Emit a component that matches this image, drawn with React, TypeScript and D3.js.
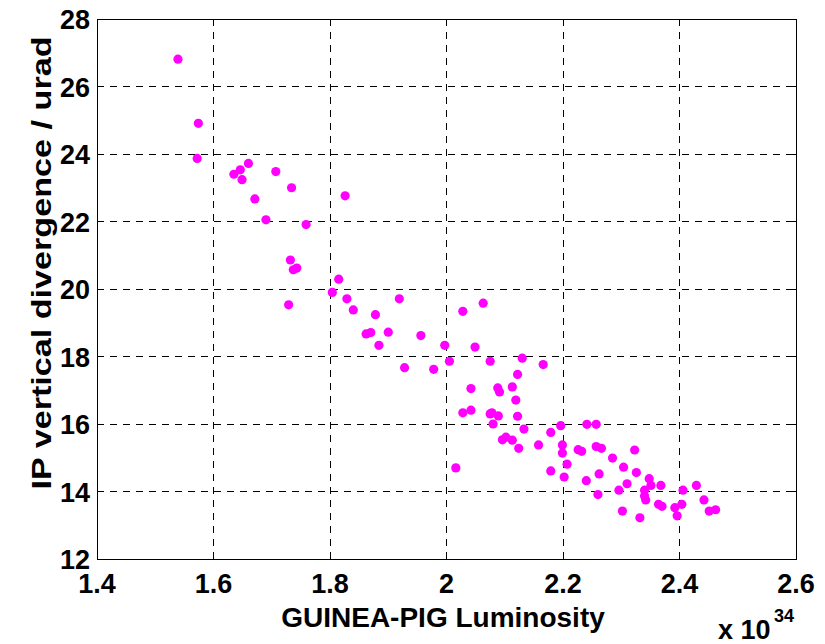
import React from 'react';
import * as d3 from 'd3';

// luminosity (x 1e34)
const lumi = [
	1.539, 1.574, 1.572, 1.66, 1.646, 1.635, 1.649, 1.707, 1.734, 1.671,
	1.826, 1.69, 1.759, 1.732, 1.743, 1.737, 1.729, 1.815, 1.804, 1.829,
	1.84, 1.878, 1.919, 1.862, 1.87, 1.9, 1.884, 1.956, 1.997, 2.049,
	2.028, 2.063, 1.928, 1.978, 2.005, 2.075, 2.13, 2.166, 2.122, 2.042,
	2.088, 2.091, 2.113, 2.119, 2.028, 2.042, 2.075, 2.078, 2.089, 2.08,
	2.122, 2.133, 2.102, 2.096, 2.113, 2.124, 2.158, 2.179, 2.196, 2.199,
	2.199, 2.207, 2.179, 2.202, 2.226, 2.232, 2.241, 2.257, 2.257, 2.266,
	2.24, 2.262, 2.26, 2.285, 2.323, 2.304, 2.326, 2.31, 2.296, 2.302,
	2.332, 2.348, 2.351, 2.34, 2.34, 2.342, 2.368, 2.364, 2.37, 2.392,
	2.396, 2.404, 2.406, 2.429, 2.442, 2.451, 2.462, 2.016,
];

// IP vertical divergence (urad)
const diverg = [
	26.81, 24.91, 23.87, 23.72, 23.53, 23.4, 23.24, 23.48, 23.0, 22.67,
	22.76, 22.05, 21.91, 20.86, 20.62, 20.57, 19.53, 20.29, 19.9, 19.71,
	19.38, 19.24, 19.71, 18.67, 18.71, 18.72, 18.33, 18.62, 18.33, 18.28,
	19.34, 19.58, 17.67, 17.62, 17.86, 17.86, 17.95, 17.76, 17.47, 17.05,
	17.07, 16.95, 17.1, 16.71, 16.33, 16.41, 16.3, 16.33, 16.24, 16.0,
	16.23, 15.85, 15.61, 15.53, 15.52, 15.28, 15.38, 15.75, 15.95, 15.38,
	15.14, 14.81, 14.61, 14.43, 15.24, 15.19, 15.99, 15.99, 15.33, 15.28,
	14.32, 14.52, 13.91, 14.99, 15.23, 14.72, 14.56, 14.23, 14.04, 13.42,
	13.22, 14.38, 14.18, 14.04, 13.87, 13.75, 14.18, 13.62, 13.56, 13.52,
	13.28, 13.62, 14.04, 14.18, 13.75, 13.42, 13.46, 14.7,
];

const xTicks = [1.4, 1.6, 1.8, 2, 2.2, 2.4, 2.6];
const yTicks = [12, 14, 16, 18, 20, 22, 24, 26, 28];

const W = 825;
const H = 644;
const m = { l: 97, r: 796, t: 19, b: 559 };
const font = '"Liberation Sans", Arial, Helvetica, sans-serif';

const App = () => {
	const x = d3.scaleLinear().domain([1.4, 2.6]).range([m.l, m.r]);
	const y = d3.scaleLinear().domain([12, 28]).range([m.b, m.t]);
	const tk = 7;

	return (
		<svg width={W} height={H} style={{ position: 'absolute', left: 0, top: 0, background: '#fff' }}>
			<rect x={0} y={0} width={W} height={H} fill="#fff" />
			{/* grid */}
			<g stroke="#000" strokeWidth={1} strokeDasharray="7,6" shapeRendering="crispEdges">
				{xTicks.slice(1, -1).map((t) => (
					<line key={'gx' + t} x1={x(t)} x2={x(t)} y1={m.t} y2={m.b} />
				))}
				{yTicks.slice(1, -1).map((t) => (
					<line key={'gy' + t} x1={m.l} x2={m.r} y1={y(t)} y2={y(t)} />
				))}
			</g>
			{/* ticks, inward on all four sides */}
			<g stroke="#000" strokeWidth={1} shapeRendering="crispEdges">
				{xTicks.map((t) => (
					<g key={'tx' + t}>
						<line x1={x(t)} x2={x(t)} y1={m.b} y2={m.b - tk} />
						<line x1={x(t)} x2={x(t)} y1={m.t} y2={m.t + tk} />
					</g>
				))}
				{yTicks.map((t) => (
					<g key={'ty' + t}>
						<line x1={m.l} x2={m.l + tk} y1={y(t)} y2={y(t)} />
						<line x1={m.r} x2={m.r - tk} y1={y(t)} y2={y(t)} />
					</g>
				))}
				<rect x={m.l} y={m.t} width={m.r - m.l} height={m.b - m.t} fill="none" />
			</g>
			{/* points */}
			<g fill="#ff00ff">
				{lumi.map((d, i) => (
					<circle key={i} cx={x(d)} cy={y(diverg[i])} r={4.6} />
				))}
			</g>
			{/* tick labels */}
			<g fontFamily={font} fontWeight="bold" fontSize={27} fill="#000">
				{xTicks.map((t) => (
					<text key={'lx' + t} x={x(t)} y={593} textAnchor="middle">
						{String(t)}
					</text>
				))}
				{yTicks.map((t) => (
					<text key={'ly' + t} x={90} y={y(t) + 10} textAnchor="end">
						{String(t)}
					</text>
				))}
			</g>
			{/* axis titles */}
			<text x={443} y={627} textAnchor="middle" fontFamily={font} fontWeight="bold" fontSize={28}>
				GUINEA-PIG Luminosity
			</text>
			<text
				transform="translate(51, 263) rotate(-90)"
				textAnchor="middle"
				fontFamily={font}
				fontWeight="bold"
				fontSize={28}
				textLength={453}
				lengthAdjust="spacingAndGlyphs"
			>
				IP vertical divergence / urad
			</text>
			<text x={718} y={639} fontFamily={font} fontWeight="bold" fontSize={27}>
				x 10
			</text>
			<text x={774} y={622} fontFamily={font} fontWeight="bold" fontSize={18}>
				34
			</text>
		</svg>
	);
};

export default App;
